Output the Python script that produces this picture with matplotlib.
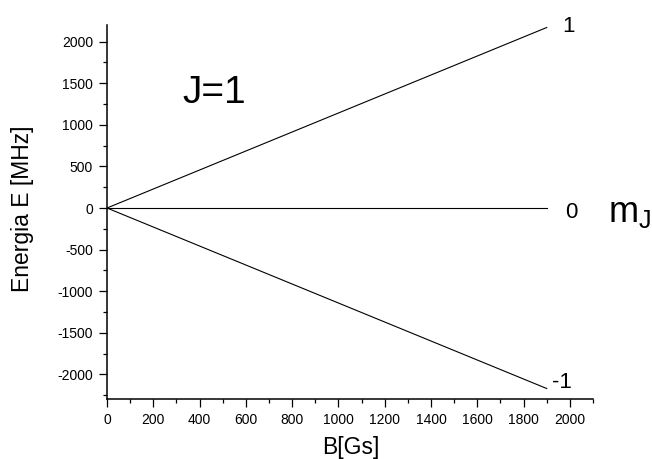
import matplotlib
matplotlib.use("Agg")
import matplotlib.pyplot as plt
from matplotlib.ticker import MultipleLocator

plt.rcParams['font.family'] = ['Liberation Sans', 'DejaVu Sans']
plt.rcParams['axes.unicode_minus'] = False
plt.rcParams['mathtext.fontset'] = 'custom'
plt.rcParams['mathtext.rm'] = 'Liberation Sans'

B = [0, 1900]
E_plus = [0, 2170]
E_zero = [0, 0]
E_minus = [0, -2170]
mj_labels = ['1', '0', '-1']
label_offsets = [(11, -3), (13, -7), (4, 0.7)]

fig = plt.figure(figsize=(6.52, 4.59), dpi=100)
ax = fig.add_axes([0.1641, 0.130, 0.7454, 0.8155])
for E in (E_plus, E_zero, E_minus):
    ax.plot(B, E, color='black', lw=0.8)

ax.set_xlim(0, 2100)
ax.set_ylim(-2300, 2200)
ax.xaxis.set_major_locator(MultipleLocator(200))
ax.xaxis.set_minor_locator(MultipleLocator(100))
ax.yaxis.set_major_locator(MultipleLocator(500))
ax.yaxis.set_minor_locator(MultipleLocator(250))
for s in ('top', 'right'):
    ax.spines[s].set_visible(False)
for s in ('left', 'bottom'):
    ax.spines[s].set_linewidth(1.1)
ax.tick_params(which='major', direction='out', length=6, width=0.9, labelsize=10, pad=4)
ax.tick_params(which='minor', direction='out', length=3, width=0.9)

ax.set_xlabel('B[Gs]', fontsize=16.5)
ax.set_ylabel('Energia E [MHz]', fontsize=16.5)
ax.xaxis.set_label_coords(0.502, -0.098)
ax.yaxis.set_label_coords(-0.150, 0.508)

for E, lab, off in zip((E_plus, E_zero, E_minus), mj_labels, label_offsets):
    ax.annotate(lab, (B[-1], E[-1]), xytext=off, textcoords='offset points',
                fontsize=16, va='baseline', ha='left')

ax.text(0.156, 0.7916, 'J=1', fontsize=28, va='baseline', ha='left', transform=ax.transAxes)
ax.text(1.031, 0.4737, r'm$_\mathregular{J}$', fontsize=26, va='baseline', ha='left',
        transform=ax.transAxes, clip_on=False)

fig.savefig('out.png', dpi=100)
